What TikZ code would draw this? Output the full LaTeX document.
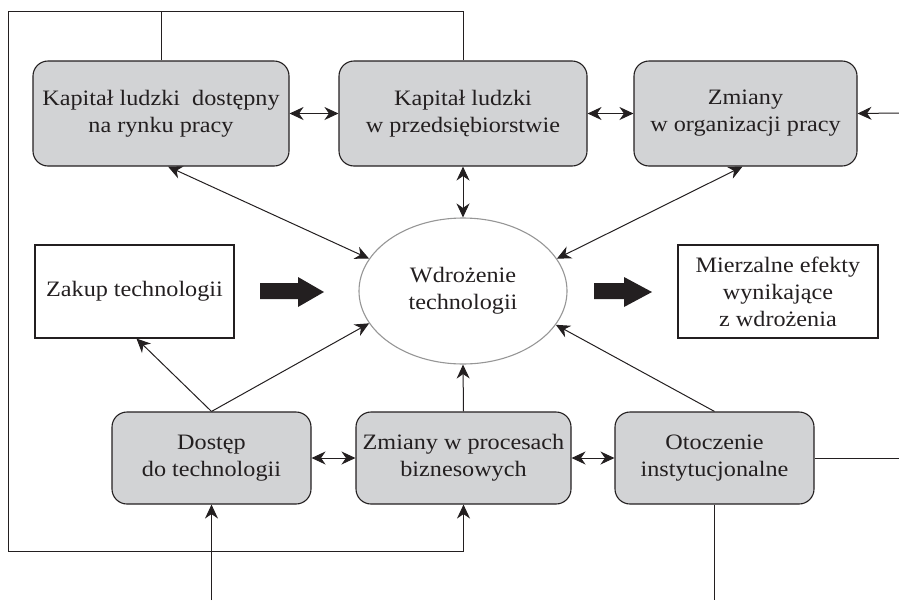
\documentclass[tikz,border=0pt]{standalone}
\usepackage{fontspec}
\setmainfont{Liberation Serif}[FakeStretch=1.1]
\usetikzlibrary{arrows.meta,shapes.geometric}
\definecolor{boxgray}{RGB}{210,211,213}
\definecolor{ink}{RGB}{35,31,32}
\definecolor{ellgray}{RGB}{150,150,150}
\tikzset{
  gbox/.style={draw=ink, line width=1.1pt, fill=boxgray, rounded corners=15pt, align=center, inner sep=0pt, text=ink},
  wbox/.style={draw=ink, line width=1.1pt, fill=white, align=center, inner sep=0pt, text=ink},
  conn/.style={draw=ink, line width=1pt},
  tip/.style={-{Stealth[length=14pt,width=13pt,inset=4.5pt]}},
  dtip/.style={{Stealth[length=14pt,width=13pt,inset=4.5pt]}-{Stealth[length=14pt,width=13pt,inset=4.5pt]}},
  txt/.style={font=\fontsize{22}{27}\selectfont}
}
\begin{document}
\begin{tikzpicture}[x=1pt,y=-1pt]
\useasboundingbox (0,0) rectangle (899,600);
% top row
\node[gbox,txt,minimum width=256pt,minimum height=105pt] (b1) at (161,113.5) {Kapitał ludzki\ \ dostępny\\na rynku pracy};
\node[gbox,txt,minimum width=248pt,minimum height=105pt] (b2) at (463,113.5) {Kapitał ludzki\\w przedsiębiorstwie};
\node[gbox,txt,minimum width=223pt,minimum height=105pt] (b3) at (745.5,113.5) {Zmiany\\w organizacji pracy};
% middle row
\node[wbox,txt,minimum width=199pt,minimum height=93pt] (zak) at (134.5,291.5) {Zakup technologii};
\node[draw=ellgray, line width=1.1pt, ellipse, minimum width=208pt, minimum height=146pt, inner sep=0pt, align=center, txt, text=ink] (e) at (463,291) {Wdrożenie\\technologii};
\node[wbox,txt,minimum width=200pt,minimum height=93pt] (mie) at (778,291.5) {Mierzalne efekty\\wynikające\\z wdrożenia};
% bottom row
\node[gbox,txt,minimum width=199pt,minimum height=92pt] (b4) at (211.5,458) {Dostęp\\do technologii};
\node[gbox,txt,minimum width=215pt,minimum height=92pt] (b5) at (463.5,458) {Zmiany w procesach\\biznesowych};
\node[gbox,txt,minimum width=199pt,minimum height=92pt] (b6) at (714.5,458) {Otoczenie\\instytucjonalne};
% coordinates
\coordinate (tl) at (8,11);
\coordinate (bl) at (8,551);
\coordinate (rin) at (899,113);
\coordinate (rout) at (899,458);
\coordinate (bin) at (211.5,600);
\coordinate (bout) at (714.5,600);
% loop
\draw[conn] (b1.north) -- (b1.north |- tl);
\draw[conn,tip] (b2.north) -- (b2.north |- tl) -- (tl) -- (bl) -- (bl -| b5.south) -- (b5.south);
% horizontal double arrows
\draw[conn,dtip] (b1.east) -- (b2.west);
\draw[conn,dtip] (b2.east) -- (b3.west);
\draw[conn,dtip] (b4.east) -- (b5.west);
\draw[conn,dtip] (b5.east) -- (b6.west);
% outside inputs
\draw[conn,tip] (rin) -- (b3.east);
\draw[conn] (b6.east) -- (rout);
\draw[conn,tip] (bin) -- (b4.south);
\draw[conn] (b6.south) -- (bout);
% to ellipse
\draw[conn,dtip] ([xshift=7pt]b1.south) -- (e.161);
\draw[conn,dtip] (b2.south) -- (e.north);
\draw[conn,dtip] ([xshift=-3pt]b3.south) -- (e.19);
\draw[conn,tip] (b4.north) -- ([xshift=2pt]zak.south);
\draw[conn,tip] (b4.north) -- (e.-161);
\draw[conn,tip] (b5.north) -- (e.south);
\draw[conn,tip] (b6.north) -- (e.-20);
% thick arrows
\fill[ink] (260,283) -- (298,283) -- (298,277) -- (324,292) -- (298,307) -- (298,299) -- (260,299) -- cycle;
\fill[ink] (594,283) -- (624,283) -- (624,277) -- (652,292) -- (624,307) -- (624,299) -- (594,299) -- cycle;
\end{tikzpicture}
\end{document}
